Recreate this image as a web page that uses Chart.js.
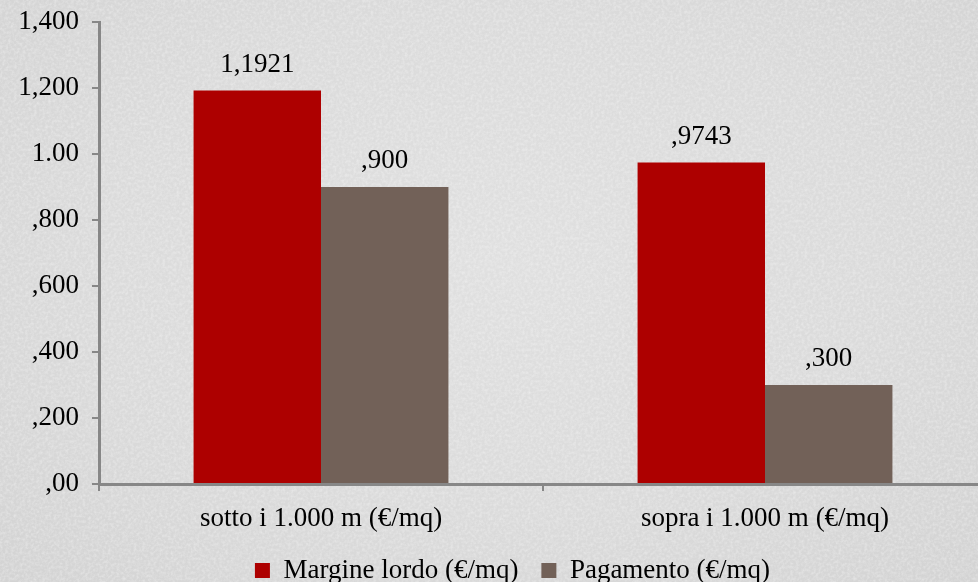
<!DOCTYPE html>
<html>
<head>
<meta charset="utf-8">
<script src="https://cdn.jsdelivr.net/npm/chart.js@4/dist/chart.umd.min.js"></script>
<style>
  html, body { margin: 0; padding: 0; width: 978px; height: 582px; overflow: hidden; }
  body {
    background-color: #dadada;
    background-image:
      url("data:image/svg+xml;utf8,<svg xmlns='http://www.w3.org/2000/svg' width='978' height='582'><filter id='n'><feTurbulence type='fractalNoise' baseFrequency='0.35' numOctaves='2' stitchTiles='stitch'/><feColorMatrix values='0 0 0 0 1  0 0 0 0 1  0 0 0 0 1  1.2 0 0 0 -0.45'/></filter><rect width='100%' height='100%' filter='url(%23n)' opacity='0.55'/></svg>"),
      radial-gradient(ellipse at 50% 45%, #e0e0e0 0%, #dbdbdb 55%, #d3d3d3 100%);
  }
  #wrap { position: absolute; left: 0; top: 0; width: 1025px; height: 594px; }
</style>
</head>
<body>
<div id="wrap"><canvas id="chart" width="1025" height="594"></canvas></div>
<script>
// Categories, series and the printed labels
const categories = ['sotto i 1.000 m (€/mq)', 'sopra i 1.000 m (€/mq)'];
const seriesNames = ['Margine lordo (€/mq)', 'Pagamento (€/mq)'];
const margineLordo = [1.1921, 0.9743];
const pagamento = [0.900, 0.300];
const margineLabels = ['1,1921', ',9743'];
const pagamentoLabels = [',900', ',300'];
const yTickLabels = [',00', ',200', ',400', ',600', ',800', '1.00', '1,200', '1,400'];

const FONT = '"Liberation Serif", "Times New Roman", serif';
const FONT_SIZE = 27;
const AXIS_GREY = '#878787';

// Writes the value text above every bar
const valueLabels = {
  id: 'valueLabels',
  afterDatasetsDraw(chart) {
    const ctx = chart.ctx;
    ctx.save();
    ctx.font = FONT_SIZE + 'px ' + FONT;
    ctx.fillStyle = '#000';
    ctx.textAlign = 'center';
    ctx.textBaseline = 'middle';
    chart.data.datasets.forEach((ds, i) => {
      chart.getDatasetMeta(i).data.forEach((bar, j) => {
        ctx.fillText(ds.valueText[j], bar.x, bar.y - 26);
      });
    });
    ctx.restore();
  }
};

new Chart(document.getElementById('chart'), {
  type: 'bar',
  data: {
    labels: categories,
    datasets: [
      {
        label: seriesNames[0],
        data: margineLordo,
        valueText: margineLabels,
        backgroundColor: '#ad0000',
        borderWidth: 0
      },
      {
        label: seriesNames[1],
        data: pagamento,
        valueText: pagamentoLabels,
        backgroundColor: '#726158',
        borderWidth: 0
      }
    ]
  },
  options: {
    responsive: false,
    devicePixelRatio: 1,
    animation: false,
    layout: { padding: { top: 22, left: 0, right: 0, bottom: 0 } },
    datasets: {
      bar: { categoryPercentage: 0.574, barPercentage: 1.0 }
    },
    plugins: {
      legend: {
        position: 'bottom',
        labels: {
          font: { family: FONT, size: FONT_SIZE },
          color: '#000',
          boxWidth: 15,
          boxHeight: 15,
          padding: 23
        }
      },
      tooltip: { enabled: false }
    },
    scales: {
      x: {
        offset: true,
        grid: {
          offset: true,
          drawOnChartArea: false,
          drawTicks: true,
          tickLength: 7,
          color: AXIS_GREY,
          lineWidth: 2
        },
        border: { display: true, color: AXIS_GREY, width: 3 },
        ticks: {
          font: { family: FONT, size: FONT_SIZE },
          color: '#000',
          padding: 12,
          maxRotation: 0
        },
        afterFit(scale) { scale.height = 50; }
      },
      y: {
        min: 0,
        max: 1.4,
        grid: {
          drawOnChartArea: false,
          drawTicks: true,
          tickLength: 7,
          color: AXIS_GREY,
          lineWidth: 2
        },
        border: { display: true, color: AXIS_GREY, width: 3 },
        ticks: {
          stepSize: 0.2,
          // compact line height so the top label does not push the plot down
          font: { family: FONT, size: FONT_SIZE, lineHeight: 0.6 },
          color: '#000',
          padding: 13,
          callback: (value, index) => yTickLabels[index]
        },
        afterFit(scale) { scale.width = 99; }
      },
      // empty axis that keeps room on the right edge of the plot
      spacer: {
        type: 'linear',
        position: 'right',
        display: true,
        grid: { display: false, drawTicks: false },
        border: { display: false },
        ticks: { display: false },
        afterFit(scale) { scale.width = 38; }
      }
    }
  },
  plugins: [valueLabels]
});
</script>
</body>
</html>
